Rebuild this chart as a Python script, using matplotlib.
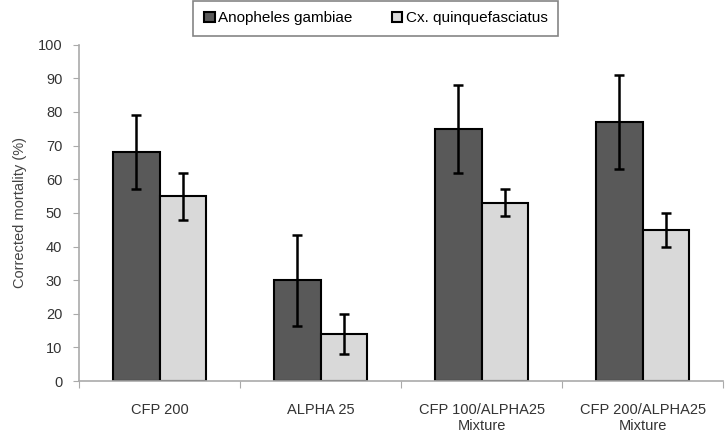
import numpy as np
import matplotlib.pyplot as plt

plt.rcParams['font.family'] = ['Liberation Sans', 'DejaVu Sans']

categories = ["CFP 200", "ALPHA 25", "CFP 100/ALPHA25\nMixture", "CFP 200/ALPHA25\nMixture"]
gambiae = [68, 30, 75, 77]
gambiae_err = [11, 13.5, 13, 14]
culex = [55, 14, 53, 45]
culex_err = [7, 6, 4, 5]

fig = plt.figure(figsize=(7.28, 4.34), dpi=100)
ax = fig.add_axes([0.1085, 0.122, 0.885, 0.775])

x = np.arange(len(categories))
w = 0.29
err_kw = dict(ecolor="black", elinewidth=1.8, capsize=3.3, capthick=1.8)
ax.bar(x - w / 2, gambiae, w, yerr=gambiae_err, color="#595959", edgecolor="black",
       linewidth=1.5, error_kw=err_kw, label="Anopheles gambiae")
ax.bar(x + w / 2, culex, w, yerr=culex_err, color="#d9d9d9", edgecolor="black",
       linewidth=1.5, error_kw=err_kw, label="Cx. quinquefasciatus")

ax.set_xlim(-0.5, len(categories) - 0.5)
ax.set_ylim(0, 100)
ax.set_yticks(range(0, 101, 10))
ax.set_xticks(np.arange(len(categories) + 1) - 0.5)
ax.set_xticklabels([])
ax.set_xticks(x, minor=True)
ax.set_xticklabels(categories, minor=True)
ax.tick_params(axis="x", which="minor", length=0, pad=16, labelsize=10.5, colors="#333333")
ax.tick_params(axis="x", which="major", length=5, color="#aaaaaa", direction="out")
ax.tick_params(axis="y", length=4, color="#aaaaaa", labelsize=10.5, labelcolor="#333333", pad=8)

for s in ["top", "right"]:
    ax.spines[s].set_visible(False)
for s in ["left", "bottom"]:
    ax.spines[s].set_color("#aaaaaa")
    ax.spines[s].set_linewidth(1.2)

ax.set_ylabel("Corrected mortality (%)", fontsize=10.5, color="#444444", labelpad=8)

leg = fig.legend(loc="upper center", bbox_to_anchor=(0.516, 1.0), ncol=2, fontsize=11,
                 frameon=True, fancybox=False, handlelength=0.7, handleheight=0.7,
                 handletextpad=0.2, columnspacing=2.6, borderpad=0.45, borderaxespad=0.3)
leg.get_frame().set_edgecolor("#666666")
leg.get_frame().set_linewidth(1.2)
# pad the legend box sideways a bit
leg._legend_box.sep = 0
leg.get_frame().set_boxstyle("square", pad=0.25)

fig.savefig("out.png", dpi=100)
